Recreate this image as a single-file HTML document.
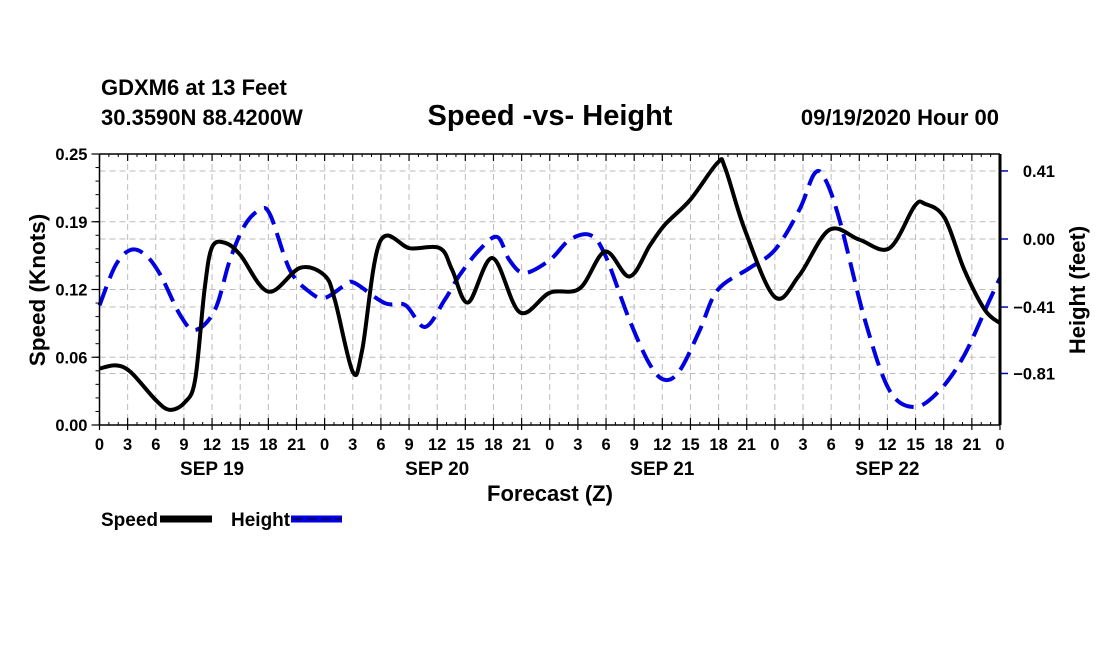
<!DOCTYPE html>
<html><head><meta charset="utf-8"><style>
html,body{margin:0;padding:0;background:#fff;}
svg{display:block;font-family:"Liberation Sans",sans-serif;font-weight:bold;}
</style></head><body>
<svg id="chart" width="1100" height="650" viewBox="0 0 1100 650">
<text x="101" y="95" font-size="22">GDXM6 at 13 Feet</text>
<text x="101" y="125" font-size="22">30.3590N 88.4200W</text>
<text x="550" y="125" font-size="29" text-anchor="middle">Speed -vs- Height</text>
<text x="999" y="125" font-size="22" text-anchor="end">09/19/2020 Hour 00</text>
<g id="grid"></g>
<g id="series"></g>
<g id="axes"></g>
<text transform="translate(45,290) rotate(-90)" font-size="22.5" text-anchor="middle">Speed (Knots)</text>
<text transform="translate(1085,290) rotate(-90)" font-size="22" text-anchor="middle">Height (feet)</text>
<text x="550" y="501" font-size="22" text-anchor="middle">Forecast (Z)</text>
<g>
<text x="101" y="526" font-size="19">Speed</text>
<line x1="160" y1="519" x2="212" y2="519" stroke="#000" stroke-width="7"/>
</g>
<g>
<text x="231" y="526" font-size="19">Height</text>
<line x1="291" y1="519" x2="342" y2="519" stroke="#0000e0" stroke-width="7"/>
<line x1="293" y1="519" x2="342" y2="519" stroke="#000060" stroke-width="1.5" stroke-dasharray="10,4"/>
</g>
</svg>
<script>
const hourTicks = [0,3,6,9,12,15,18,21,0,3,6,9,12,15,18,21,0,3,6,9,12,15,18,21,0,3,6,9,12,15,18,21,0];
const dayLabels = ["SEP 19","SEP 20","SEP 21","SEP 22"];
const speedTicks = [0,0.0625,0.125,0.1875,0.25];
const speedTickLabels = ["0.00","0.06","0.12","0.19","0.25"];
const heightTicks = [-0.81,-0.41,0,0.41];
const heightTickLabels = ["\u22120.81","\u22120.41","0.00","0.41"];
const speedHours = [0,1.7,3.3,6,7.5,9.1,10.2,11.2,12,13.4,15,18,21.4,24,25.1,27,28,29.9,33.1,36.3,37.6,39.3,41.9,44.8,48,51.2,53.9,56.5,58.7,60.3,63,65.9,66.7,68.8,72,74.6,77.8,81,84.2,86.9,88,90.1,92.2,94.4,96];
const speedValues = [0.052,0.055,0.049,0.023,0.014,0.021,0.042,0.125,0.164,0.168,0.157,0.123,0.145,0.138,0.115,0.049,0.069,0.169,0.163,0.163,0.143,0.113,0.154,0.104,0.122,0.126,0.16,0.137,0.166,0.185,0.208,0.242,0.237,0.18,0.118,0.138,0.18,0.171,0.163,0.202,0.204,0.191,0.143,0.106,0.094];
const heightHours = [0,1.7,3.3,4.9,6.5,8.6,10.2,12.3,13.9,15.5,17.1,18.2,20.3,22.4,24,26.2,27.2,30.4,32.6,34.7,36.8,38.4,40.5,42.4,43.7,45.3,48,50.1,52.3,53.9,56.5,58.7,60.3,61.9,64,65.9,69.3,72,74.6,76.2,77.3,78.9,81.6,84.2,86.9,89.6,92.2,94.9,96];
const heightValues = [-0.40,-0.16,-0.066,-0.096,-0.217,-0.458,-0.548,-0.428,-0.127,0.084,0.175,0.145,-0.187,-0.319,-0.355,-0.277,-0.265,-0.386,-0.398,-0.53,-0.367,-0.217,-0.066,0.012,-0.127,-0.205,-0.127,-0.006,0.024,-0.096,-0.488,-0.759,-0.849,-0.789,-0.548,-0.307,-0.175,-0.066,0.175,0.392,0.367,0.114,-0.488,-0.91,-1.012,-0.91,-0.699,-0.367,-0.235];

const L=99.5,R=1000,T=154,B=425;
const xS=h=>L+(R-L)*h/96;
const yS=v=>B-(B-T)*v/0.25;
const yH=v=>239-166*v;
const NS="http://www.w3.org/2000/svg";
function mk(tag,attrs,parent){const e=document.createElementNS(NS,tag);for(const k in attrs)e.setAttribute(k,attrs[k]);parent.appendChild(e);return e;}
const grid=document.getElementById('grid'),axes=document.getElementById('axes'),series=document.getElementById('series');
const gs={stroke:"#bbb","stroke-width":1,"stroke-dasharray":"6,4"};
hourTicks.forEach((t,i)=>{const x=xS(i*3);
  if(i>0&&i<hourTicks.length-1){const g=mk('line',Object.assign({x1:x,x2:x,y1:T,y2:B},gs),grid);}
  mk('line',{x1:x,x2:x,y1:B-7,y2:B+5,stroke:"#000","stroke-width":1.2},axes);
  mk('line',{x1:x,x2:x,y1:T,y2:T+7,stroke:"#000","stroke-width":1.2},axes);
  const tx=mk('text',{x:x,y:450,"font-size":16.5,"text-anchor":"middle"},axes);tx.textContent=t;
  
});
for(let h=1;h<96;h++){if(h%3){mk('line',{x1:xS(h),x2:xS(h),y1:B-3,y2:B,stroke:"#000","stroke-width":1},axes);mk('line',{x1:xS(h),x2:xS(h),y1:T,y2:T+3,stroke:"#000","stroke-width":1},axes);}}
dayLabels.forEach((d,i)=>{const tx=mk('text',{x:xS(12+24*i),y:475,"font-size":19,"text-anchor":"middle"},axes);tx.textContent=d;
  });
speedTicks.forEach((v,i)=>{const y=yS(v);
  if(i>0&&i<speedTicks.length-1){const g=mk('line',Object.assign({x1:L,x2:R,y1:y,y2:y},gs),grid);}
  mk('line',{x1:L-8,x2:L,y1:y,y2:y,stroke:"#000","stroke-width":1.2},axes);
  const tx=mk('text',{x:L-12,y:y+6,"font-size":16.5,"text-anchor":"end"},axes);tx.textContent=speedTickLabels[i];
  });
for(let k=1;k<20;k++){const y=yS(0.0125*k);mk('line',{x1:L-4,x2:L,y1:y,y2:y,stroke:"#000","stroke-width":1},axes);}
heightTicks.forEach((v,i)=>{const y=yH(v);
  const g=mk('line',Object.assign({x1:L,x2:R,y1:y,y2:y},gs),grid);
  mk('line',{x1:R,x2:R+8,y1:y,y2:y,stroke:"#0000c0","stroke-width":1.5},axes);
  const tx=mk('text',{x:1055,y:y+6,"font-size":16.5,"text-anchor":"end"},axes);tx.textContent=heightTickLabels[i];
  });
mk('line',{x1:L,x2:R,y1:T,y2:T,stroke:"#000","stroke-width":1.5},axes);
mk('line',{x1:L,x2:R,y1:B,y2:B,stroke:"#000","stroke-width":1.5},axes);
mk('line',{x1:L,x2:L,y1:T,y2:B,stroke:"#000","stroke-width":1.5},axes);
mk('line',{x1:R,x2:R,y1:T,y2:B,stroke:"#000","stroke-width":3},axes);
function smooth(pts){let d="M"+pts[0][0]+","+pts[0][1];
  for(let i=0;i<pts.length-1;i++){const p0=pts[Math.max(0,i-1)],p1=pts[i],p2=pts[i+1],p3=pts[Math.min(pts.length-1,i+2)];
    const c1x=p1[0]+(p2[0]-p0[0])/6,c1y=p1[1]+(p2[1]-p0[1])/6,c2x=p2[0]-(p3[0]-p1[0])/6,c2y=p2[1]-(p3[1]-p1[1])/6;
    d+=" C"+c1x+","+c1y+" "+c2x+","+c2y+" "+p2[0]+","+p2[1];}return d;}
const hp=mk('path',{d:smooth(heightHours.map((h,i)=>[xS(h),yH(heightValues[i])])),fill:"none",stroke:"#0000e0","stroke-width":4,"stroke-dasharray":"20,9"},series);


const sp=mk('path',{d:smooth(speedHours.map((h,i)=>[xS(h),yS(speedValues[i])])),fill:"none",stroke:"#000","stroke-width":4,"stroke-linejoin":"round"},series);


</script>
</body></html>
